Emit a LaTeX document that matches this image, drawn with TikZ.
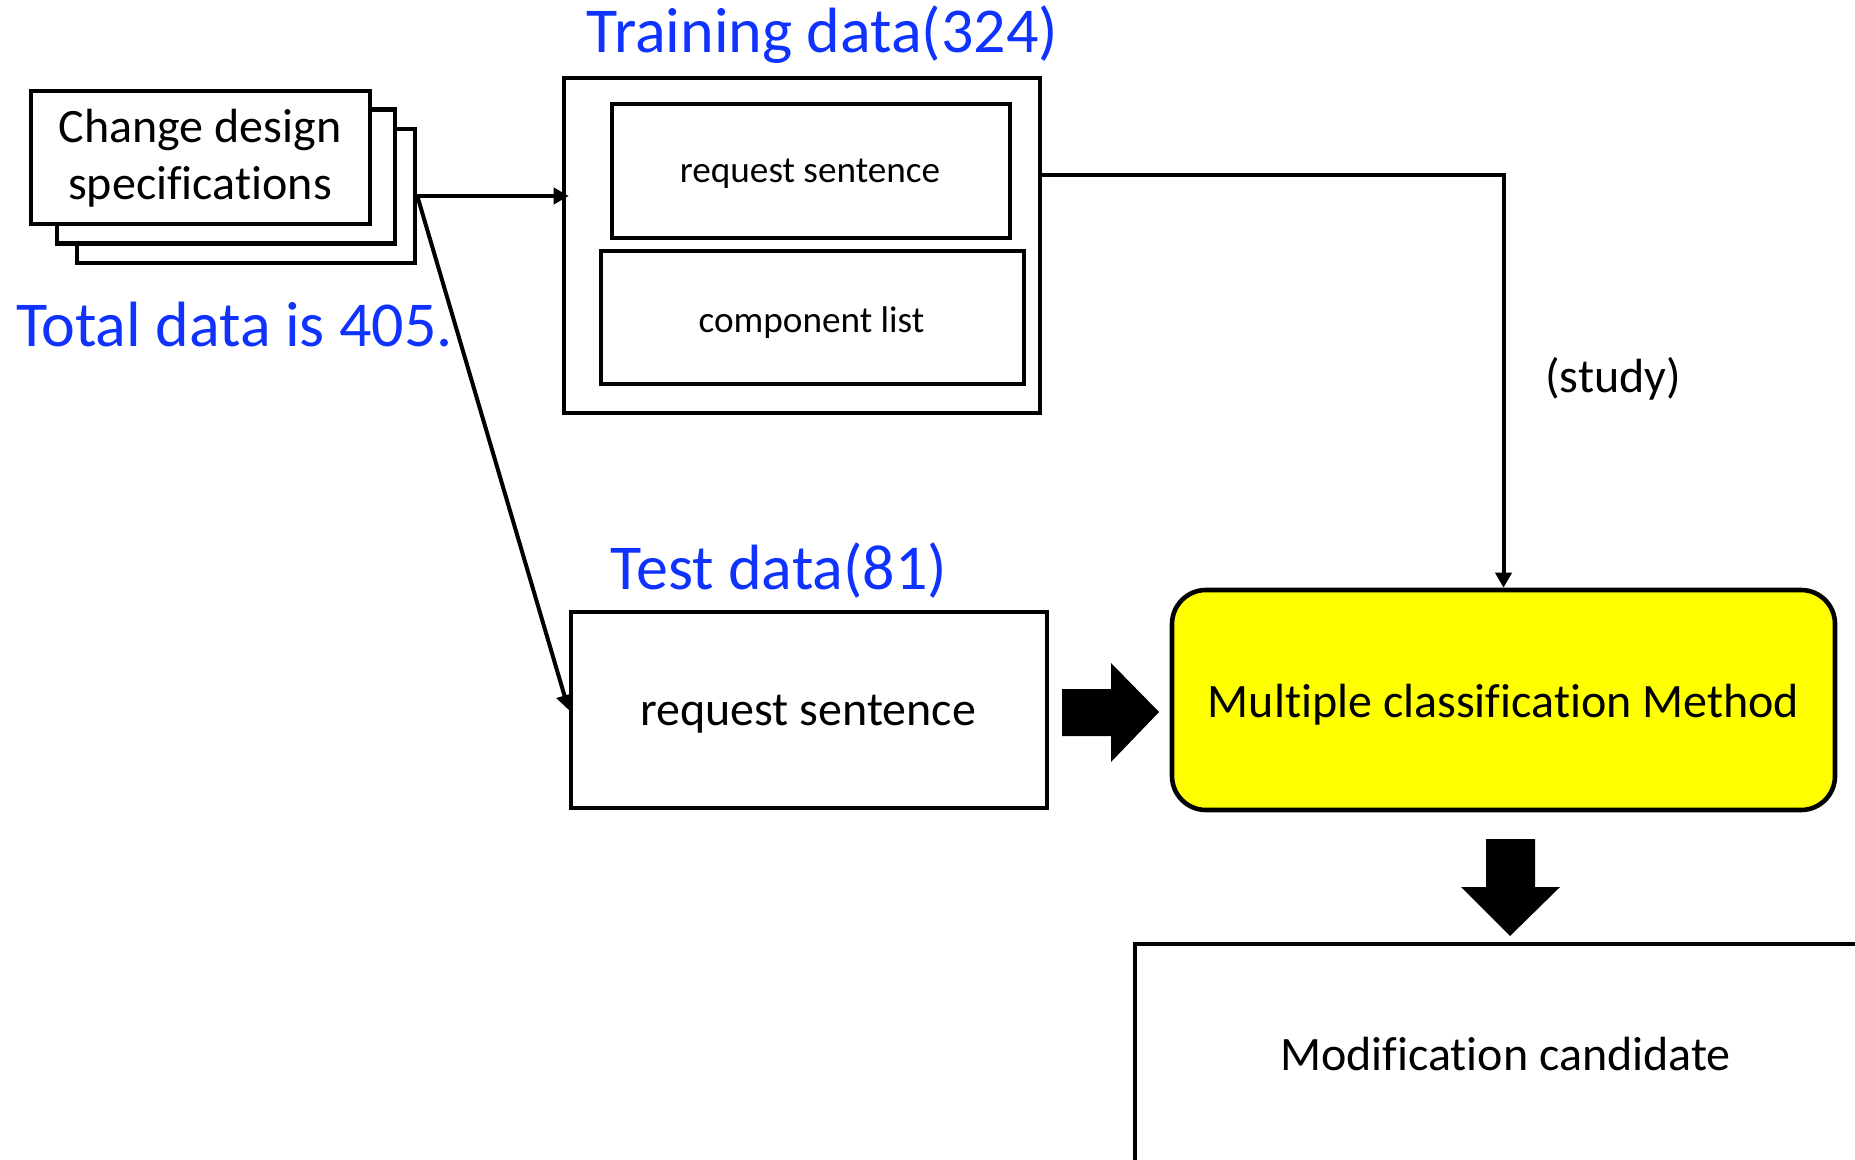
\documentclass[tikz,border=0pt]{standalone}
\usepackage{fontspec}
\setmainfont{Carlito}[Ligatures=NoCommon]
\usetikzlibrary{arrows.meta,calc}
\definecolor{labelblue}{RGB}{15,50,255}
\definecolor{methodyellow}{RGB}{255,255,0}

\begin{document}
\begin{tikzpicture}[x=0.5pt,y=-0.5pt,
  box/.style={draw=black,line width=2.3pt,fill=white,inner sep=0pt},
  txt/.style={inner sep=0pt,anchor=base,align=center},
  conn/.style={line width=2pt,-{Triangle[length=7.5pt,width=8pt]}},
  lbl/.style={txt,text=labelblue,font=\fontsize{32}{38}\selectfont},
  body/.style={txt,font=\fontsize{24}{28.5}\selectfont},
  small/.style={txt,font=\fontsize{18.6}{22}\selectfont},
  fat/.style={fill=black}]

\useasboundingbox (0,0) rectangle (1855,1160);
\clip (0,0) rectangle (1855,1160);

% stacked specification sheets
\node[box,minimum width=169pt,minimum height=67pt] (s3) at (246,196) {};
\node[box,minimum width=169pt,minimum height=67pt] (s2) at (226,176.5) {};
\node[box,minimum width=169.5pt,minimum height=66.5pt] (s1) at (200.5,157.5) {};
% base anchor of a two-line node sits on the last line
\node[body] (s1txt) at (200,200) {Change design\\specifications};

% training data block
\node[box,minimum width=238pt,minimum height=167.5pt] (train) at (802,245.5) {};
\node[box,minimum width=199pt,minimum height=67pt] (treq) at (811,171) {};
\node[small] (treqtxt) at (810,183) {request sentence};
\node[box,minimum width=211.5pt,minimum height=66.5pt] (tcomp) at (812.5,317.5) {};
\node[small] (tcomptxt) at (811.5,333) {component list};

% blue captions
\node[lbl] (trainlbl) at (822.5,53) {Training data(324)};
\node[lbl] (totallbl) at (234.5,346) {Total data is 405.};
\node[lbl] (testlbl) at (779,589) {Test data(81)};

% test data, method and result
\node[box,minimum width=238pt,minimum height=98pt] (test) at (809,710) {};
\node[body] (testtxt) at (808,725) {request sentence};
\node[box,fill=methodyellow,rounded corners=17pt,minimum width=331.5pt,minimum height=110pt] (multi) at (1503.5,700) {};
\node[body] (multitxt) at (1503.5,717) {Multiple classification Method};
\node[box,minimum width=372.5pt,minimum height=115.5pt] (mod) at (1507.5,1059.5) {};
\node[body] (modtxt) at (1505.5,1070) {Modification candidate};
\node[body] (study) at (1613,392) {(study)};

% thin connectors
\draw[conn,shorten >=-3.5pt] (s3.east) -- (train.west |- s3.east);
\draw[conn] (s3.east) -- (test.west);
\coordinate (trainout) at ($(train.north east)!0.2925!(train.south east)$);
\draw[conn] (trainout) -| (multi.north);

% block arrows
\fill[fat] (1062,689) -- (1111,689) -- (1111,663) -- (1159,712) -- (1111,762) -- (1111,736) -- (1062,736) -- cycle;
\fill[fat] (1486,839) -- (1535,839) -- (1535,887) -- (1560,887) -- (1510,936) -- (1461,887) -- (1486,887) -- cycle;
\end{tikzpicture}
\end{document}
